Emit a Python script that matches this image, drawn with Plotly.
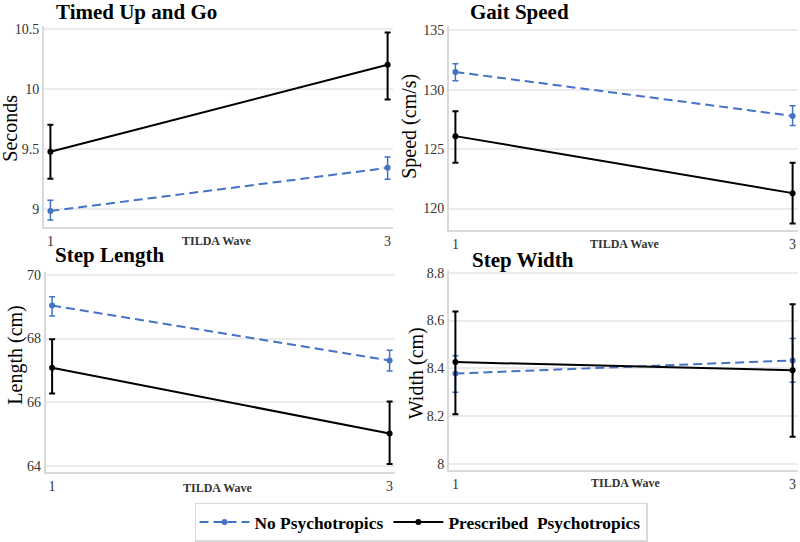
import plotly.graph_objects as go

waves = [1, 3]
wave_labels = ["1", "3"]

panels = ["Timed Up and Go", "Gait Speed", "Step Length", "Step Width"]
y_titles = ["Seconds", "Speed (cm/s)", "Length (cm)", "Width (cm)"]

# No Psychotropics (mean, lower, upper)
no_mean = [[8.98, 9.34], [131.5, 127.8], [69.04, 67.31], [8.378, 8.433]]
no_low = [[8.905, 9.245], [130.76, 127.0], [68.71, 66.98], [8.30, 8.341]]
no_high = [[9.07, 9.43], [132.2, 128.66], [69.32, 67.63], [8.453, 8.525]]

# Prescribed Psychotropics
pp_mean = [[9.475, 10.20], [126.1, 121.3], [67.08, 65.01], [8.426, 8.392]]
pp_low = [[9.25, 9.91], [123.85, 118.75], [66.27, 64.05], [8.207, 8.113]]
pp_high = [[9.70, 10.47], [128.2, 123.85], [67.98, 66.02], [8.638, 8.668]]

y_ranges = [[8.846, 10.524], [118.22, 135.38], [63.79, 70.1], [7.974, 8.812]]
y_dticks = [0.5, 5, 2, 0.2]

W, H = 800, 542
def fx(px): return px / W
def fy(py): return 1 - py / H

# pixel boxes: (left, right, top, bottom)
boxes = [(44, 393, 22.5, 229), (449, 798, 22.5, 231.7), (45.7, 395, 275, 480.7), (449, 798, 273, 478.3)]
title_pos = [(54, 8), (467.7, 8), (53, 257.5), (470, 262.5)]
ytitle_pos = [(10, 128), (410, 125), (16, 361), (416, 379)]
wave_title_pos = [(216, 243), (624, 246), (217, 497), (625, 492)]

BLUE = "#4472C4"
FONT = "Liberation Serif"

fig = go.Figure()
annotations = []
for i in range(4):
    sfx = "" if i == 0 else str(i + 1)
    xa, ya = "x" + sfx, "y" + sfx
    l, r, t, b = boxes[i]
    fig.add_trace(go.Scatter(
        x=waves, y=no_mean[i], xaxis=xa, yaxis=ya, mode="lines+markers",
        name="<b>No Psychotropics</b>", legendgroup="no", showlegend=(i == 0),
        line=dict(color=BLUE, width=2, dash="9px,5px"),
        marker=dict(color=BLUE, size=6),
        error_y=dict(type="data", symmetric=False,
                     array=[h - m for h, m in zip(no_high[i], no_mean[i])],
                     arrayminus=[m - lo for m, lo in zip(no_mean[i], no_low[i])],
                     color=BLUE, thickness=1.5, width=3),
    ))
    fig.add_trace(go.Scatter(
        x=waves, y=pp_mean[i], xaxis=xa, yaxis=ya, mode="lines+markers",
        name="<b>Prescribed  Psychotropics</b>", legendgroup="pp", showlegend=(i == 0),
        line=dict(color="black", width=2),
        marker=dict(color="black", size=6),
        error_y=dict(type="data", symmetric=False,
                     array=[h - m for h, m in zip(pp_high[i], pp_mean[i])],
                     arrayminus=[m - lo for m, lo in zip(pp_mean[i], pp_low[i])],
                     color="black", thickness=2, width=3),
    ))
    fig.update_layout(**{
        "xaxis" + sfx: dict(domain=[fx(l), fx(r)], anchor=ya, range=[0.962, 3.032],
                            tickvals=waves, ticktext=wave_labels, showgrid=False,
                            showline=True, linecolor="#D9D9D9", linewidth=2,
                            ticks="", zeroline=False,
                            tickfont=dict(family=FONT, size=14, color="#333333")),
        "yaxis" + sfx: dict(domain=[fy(b), fy(t)], anchor=xa, range=y_ranges[i],
                            dtick=y_dticks[i], showgrid=True, gridcolor="#EBEBEB", gridwidth=1.5,
                            showline=True, linecolor="#D9D9D9", linewidth=2,
                            ticks="", zeroline=False,
                            tickfont=dict(family=FONT, size=14, color="#333333")),
    })
    annotations.append(dict(text="<b>" + panels[i] + "</b>", xref="paper", yref="paper",
                            x=fx(title_pos[i][0]), y=fy(title_pos[i][1]), xanchor="left",
                            yanchor="middle",
                            showarrow=False, font=dict(family=FONT, size=21, color="black")))
    annotations.append(dict(text=y_titles[i], xref="paper", yref="paper", textangle=-90,
                            x=fx(ytitle_pos[i][0]), y=fy(ytitle_pos[i][1]), xanchor="center", yanchor="middle",
                            showarrow=False, font=dict(family=FONT, size=20, color="black")))
    annotations.append(dict(text="<b>TILDA Wave</b>", xref="paper", yref="paper",
                            x=fx(wave_title_pos[i][0]), y=fy(wave_title_pos[i][1]), xanchor="center", yanchor="middle",
                            showarrow=False, font=dict(family=FONT, size=12, color="#333333")))

fig.update_layout(
    width=W, height=H, margin=dict(l=0, r=0, t=0, b=0),
    paper_bgcolor="white", plot_bgcolor="white",
    annotations=annotations,
    showlegend=True,
    legend=dict(orientation="h", x=fx(421), y=fy(512), xanchor="center", yanchor="top",
                bordercolor="#D9D9D9", borderwidth=1.5, bgcolor="white",
                font=dict(family=FONT, size=17.4, color="black"), itemwidth=50,
                tracegroupgap=0),
)

fig.write_html("out.html", config={"displayModeBar": False},
               post_script="document.body.style.margin='0';")
